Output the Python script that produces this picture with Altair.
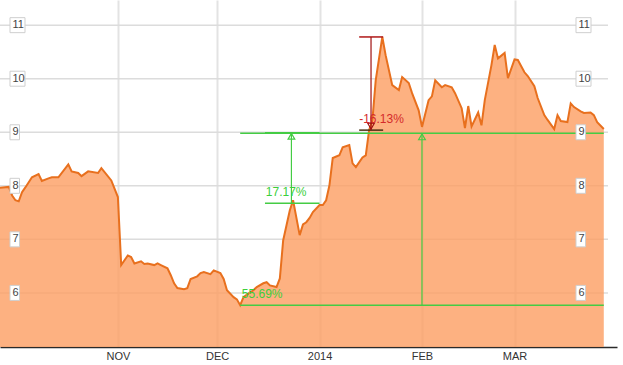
import altair as alt
import pandas as pd

# ---- data ----
dates = [
    "2013-09-26", "2013-09-29", "2013-09-30", "2013-10-01", "2013-10-02", "2013-10-03", "2013-10-04",
    "2013-10-06", "2013-10-08", "2013-10-09", "2013-10-11", "2013-10-12", "2013-10-14", "2013-10-17",
    "2013-10-18", "2013-10-20", "2013-10-21", "2013-10-23", "2013-10-26", "2013-10-27", "2013-10-30",
    "2013-11-01", "2013-11-02", "2013-11-04", "2013-11-05", "2013-11-06", "2013-11-08", "2013-11-09",
    "2013-11-10", "2013-11-12", "2013-11-13", "2013-11-14", "2013-11-16", "2013-11-17", "2013-11-18",
    "2013-11-19", "2013-11-21", "2013-11-22", "2013-11-23", "2013-11-25", "2013-11-26", "2013-11-27",
    "2013-11-29", "2013-11-30", "2013-12-02", "2013-12-03", "2013-12-04", "2013-12-06", "2013-12-07",
    "2013-12-08", "2013-12-09", "2013-12-11", "2013-12-12", "2013-12-13", "2013-12-15", "2013-12-16",
    "2013-12-17", "2013-12-19", "2013-12-20", "2013-12-21", "2013-12-22", "2013-12-23", "2013-12-24",
    "2013-12-26", "2013-12-27", "2013-12-28", "2013-12-29", "2013-12-30", "2014-01-01", "2014-01-02",
    "2014-01-03", "2014-01-04", "2014-01-05", "2014-01-07", "2014-01-08", "2014-01-10", "2014-01-11",
    "2014-01-12", "2014-01-14", "2014-01-15", "2014-01-16", "2014-01-17", "2014-01-18", "2014-01-20",
    "2014-01-21", "2014-01-23", "2014-01-25", "2014-01-26", "2014-01-28", "2014-01-29", "2014-01-31",
    "2014-02-01", "2014-02-03", "2014-02-04", "2014-02-05", "2014-02-07", "2014-02-08", "2014-02-10",
    "2014-02-11", "2014-02-13", "2014-02-14", "2014-02-15", "2014-02-16", "2014-02-18", "2014-02-19",
    "2014-02-20", "2014-02-22", "2014-02-23", "2014-02-24", "2014-02-26", "2014-02-27", "2014-03-01",
    "2014-03-02", "2014-03-04", "2014-03-05", "2014-03-07", "2014-03-08", "2014-03-10", "2014-03-11",
    "2014-03-13", "2014-03-14", "2014-03-15", "2014-03-17", "2014-03-18", "2014-03-19", "2014-03-21",
    "2014-03-22", "2014-03-24", "2014-03-25", "2014-03-26", "2014-03-28",
]
prices = [
    7.96, 7.98, 7.82, 7.73, 7.71, 7.88, 7.97,
    8.16, 8.22, 8.09, 8.14, 8.16, 8.16, 8.40,
    8.27, 8.24, 8.18, 8.27, 8.24, 8.33, 8.10,
    7.79, 6.52, 6.70, 6.67, 6.55, 6.59, 6.54,
    6.55, 6.52, 6.55, 6.52, 6.46, 6.33, 6.18,
    6.09, 6.07, 6.09, 6.26, 6.31, 6.37, 6.39,
    6.35, 6.42, 6.37, 6.26, 6.05, 5.92, 5.88,
    5.77, 5.92, 6.01, 6.05, 6.11, 6.18, 6.20,
    6.14, 6.11, 6.27, 6.98, 7.26, 7.54, 7.73,
    7.08, 7.28, 7.32, 7.40, 7.51, 7.64, 7.64,
    7.73, 8.01, 8.52, 8.57, 8.72, 8.76, 8.42,
    8.35, 8.53, 8.57, 9.04, 9.23, 9.97, 10.78,
    10.44, 9.88, 9.79, 10.03, 9.92, 9.73, 9.41,
    9.10, 9.60, 9.67, 9.97, 9.84, 9.88, 9.84,
    9.73, 9.45, 9.08, 9.49, 9.11, 9.37, 9.13,
    9.60, 10.25, 10.63, 10.38, 10.48, 10.01, 10.36,
    10.35, 10.12, 10.05, 9.86, 9.64, 9.32, 9.23,
    9.06, 9.32, 9.21, 9.19, 9.54, 9.47, 9.39,
    9.36, 9.37, 9.32, 9.19, 9.06,
]

y_ticks = [6, 7, 8, 9, 10, 11]
month_marks = [(2013, 11), (2013, 12), (2014, 1), (2014, 2), (2014, 3)]

# annotations (percentage-change measuring tool)
green_h_start = ["2013-12-08", "2013-12-08", "2013-12-15T12:00:00Z", "2013-12-15T12:00:00Z"]
green_h_end = ["2014-03-28", "2014-03-28", "2014-01-01", "2014-01-01"]
green_h_val = [5.77, 8.98, 7.675, 8.99]
green_v_date = ["2014-02-01", "2013-12-23T12:00:00Z"]
green_v_low = [5.77, 7.675]
green_v_high = [8.98, 8.99]
red_h_start = ["2014-01-13", "2014-01-13"]
red_h_end = ["2014-01-20T06:00:00Z", "2014-01-20T06:00:00Z"]
red_h_val = [10.78, 9.04]
red_h_color = ["#B01818", "#4a3010"]
red_v_date = ["2014-01-16T14:00:00Z"]
red_v_high = [10.78]
red_v_low = [9.04]
ann_text = ["55.69%", "17.17%", "-16.13%"]
ann_date = ["2013-12-08T12:00:00Z", "2013-12-15T18:00:00Z", "2014-01-13"]
ann_val = [5.77, 7.675, 9.04]
ann_color = ["#3ccf3c", "#3ccf3c", "#d42a2a"]

GREEN = "#44cc44"
FONT = "Liberation Sans"

# ---- scales / axes ----
xscale = alt.Scale(
    type="utc",
    domain=[alt.DateTime(year=2013, month=9, date=26, hours=8, utc=True),
            alt.DateTime(year=2014, month=4, date=1, utc=True)],
)
yscale = alt.Scale(domain=[4.99, 11.47], zero=False, nice=False)
xaxis = alt.Axis(
    values=[alt.DateTime(year=y, month=m, date=1, utc=True) for y, m in month_marks],
    labelExpr="utcmonth(datum.value) == 0 ? utcFormat(datum.value, '%Y') : upper(utcFormat(datum.value, '%b'))",
    grid=True, gridColor="#e3e3e3", gridWidth=2,
    ticks=False, domainColor="#2a2a2a", domainWidth=1.5,
    labelFont=FONT, labelFontSize=11, labelColor="#333333", labelPadding=3,
    title=None,
)


def X(field="date"):
    return alt.X(f"{field}:T", scale=xscale, axis=xaxis, title=None)


def Y(field="v"):
    return alt.Y(f"{field}:Q", scale=yscale, axis=None, title=None)


main = pd.DataFrame({"date": dates, "v": prices})
ticks_df = pd.DataFrame({"v": y_ticks, "label": [str(t) for t in y_ticks]})

hgrid = alt.Chart(ticks_df).mark_rule(color="#dcdcdc", strokeWidth=1.5).encode(
    y=Y(), x=alt.value(0), x2=alt.value(608)
)

area = alt.Chart(main).mark_area(color="#FC9D62", opacity=0.8, clip=True).encode(x=X(), y=Y())
line = alt.Chart(main).mark_line(color="#E8701E", strokeWidth=2).encode(x=X(), y=Y())

gh = alt.Chart(pd.DataFrame({"date": green_h_start, "date2": green_h_end, "v": green_h_val})).mark_rule(
    color=GREEN, strokeWidth=1.5
).encode(x=X(), x2="date2:T", y=Y())
gv = alt.Chart(pd.DataFrame({"date": green_v_date, "v": green_v_low, "v2": green_v_high})).mark_rule(
    color=GREEN, strokeWidth=1.2
).encode(x=X(), y=Y(), y2="v2:Q")
gtri = alt.Chart(pd.DataFrame({"date": green_v_date, "v": green_v_high})).mark_point(
    shape="triangle-up", size=45, filled=False, color=GREEN, strokeWidth=1.2, opacity=1, yOffset=3.5
).encode(x=X(), y=Y())

rh = alt.Chart(pd.DataFrame({"date": red_h_start, "date2": red_h_end, "v": red_h_val, "c": red_h_color})).mark_rule(
    strokeWidth=1.5
).encode(x=X(), x2="date2:T", y=Y(), color=alt.Color("c:N", scale=None))
rv = alt.Chart(pd.DataFrame({"date": red_v_date, "v": red_v_high, "v2": red_v_low})).mark_rule(
    color="#A01010", strokeWidth=1.2
).encode(x=X(), y=Y(), y2="v2:Q")
rtri = alt.Chart(pd.DataFrame({"date": red_v_date, "v": red_v_low})).mark_point(
    shape="triangle-down", size=45, filled=False, color="#A01010", strokeWidth=1.2, opacity=1, yOffset=-4
).encode(x=X(), y=Y())

ann = alt.Chart(pd.DataFrame({"date": ann_date, "v": ann_val, "label": ann_text, "c": ann_color})).mark_text(
    align="left", baseline="alphabetic", dy=-7, font=FONT, fontSize=12
).encode(x=X(), y=Y(), text="label:N", color=alt.Color("c:N", scale=None))

box_base = alt.Chart(ticks_df).transform_calculate(
    shp="datum.v >= 10 ? 'M0,-1H2V1H0Z' : 'M0,-1H1.27V1H0Z'"
).mark_point(size=225, filled=True, fill="white", stroke="#cfcfcf", strokeWidth=1, opacity=1)
box_left = box_base.encode(x=alt.value(10), y=Y(), shape=alt.Shape("shp:N", scale=None))
box_right = box_base.encode(x=alt.value(576), y=Y(), shape=alt.Shape("shp:N", scale=None))
txt_base = alt.Chart(ticks_df).mark_text(align="left", baseline="middle", font=FONT, fontSize=11, color="#444444")
txt_left = txt_base.encode(x=alt.value(12.5), y=Y(), text="label:N")
txt_right = txt_base.encode(x=alt.value(578.5), y=Y(), text="label:N")

chart = alt.layer(
    hgrid, area, line, gh, gv, gtri, rh, rv, rtri, ann, box_left, box_right, txt_left, txt_right
).properties(
    width=617, height=347,
    autosize=alt.AutoSizeParams(type="none"),
    padding={"left": 0, "top": 0, "right": 6, "bottom": 18},
    background="white",
).configure_view(stroke=None)

chart.save("out.html", embed_options={"renderer": "svg", "actions": False})
